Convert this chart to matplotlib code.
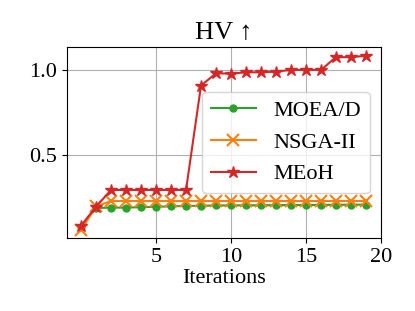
import matplotlib.pyplot as plt
import numpy as np

plt.rcParams['font.family'] = ['Liberation Serif', 'DejaVu Serif']

iterations = np.arange(20)
moead = [0.08, 0.19, 0.192, 0.192, 0.195, 0.197, 0.2, 0.202, 0.203, 0.205, 0.205,
         0.206, 0.206, 0.207, 0.207, 0.208, 0.208, 0.209, 0.209, 0.21]
nsga2 = [0.06, 0.2, 0.231, 0.231, 0.231, 0.231, 0.231, 0.231, 0.231, 0.231, 0.231,
         0.231, 0.231, 0.231, 0.231, 0.231, 0.231, 0.231, 0.231, 0.231]
meoh = [0.086, 0.198, 0.296, 0.296, 0.296, 0.296, 0.296, 0.296, 0.91, 0.982, 0.98,
        0.988, 0.988, 0.992, 1.002, 1.002, 1.002, 1.077, 1.077, 1.085]

fig = plt.figure(figsize=(4.15, 3.11), dpi=100)
ax = fig.add_axes([0.161, 0.235, 0.757, 0.614])

ax.plot(iterations, moead, color='tab:green', marker='o', markersize=5, lw=1.5, label='MOEA/D')
ax.plot(iterations, nsga2, color='tab:orange', marker='x', markersize=8, mew=1.5, lw=1.5, label='NSGA-II')
ax.plot(iterations, meoh, color='tab:red', marker='*', markersize=9, lw=1.5, label='MEoH')

ax.set_xlim(-0.95, 20)
ax.set_ylim(0.014, 1.137)
ax.set_xticks([5, 10, 15, 20])
ax.set_yticks([0.5, 1.0])
ax.tick_params(labelsize=16)
ax.grid(True)
ax.set_xlabel('Iterations', fontsize=16, labelpad=2)
ax.set_title('HV ↑', fontsize=19)
ax.legend(loc='center right', fontsize=16)

fig.savefig('out.png', dpi=100)
